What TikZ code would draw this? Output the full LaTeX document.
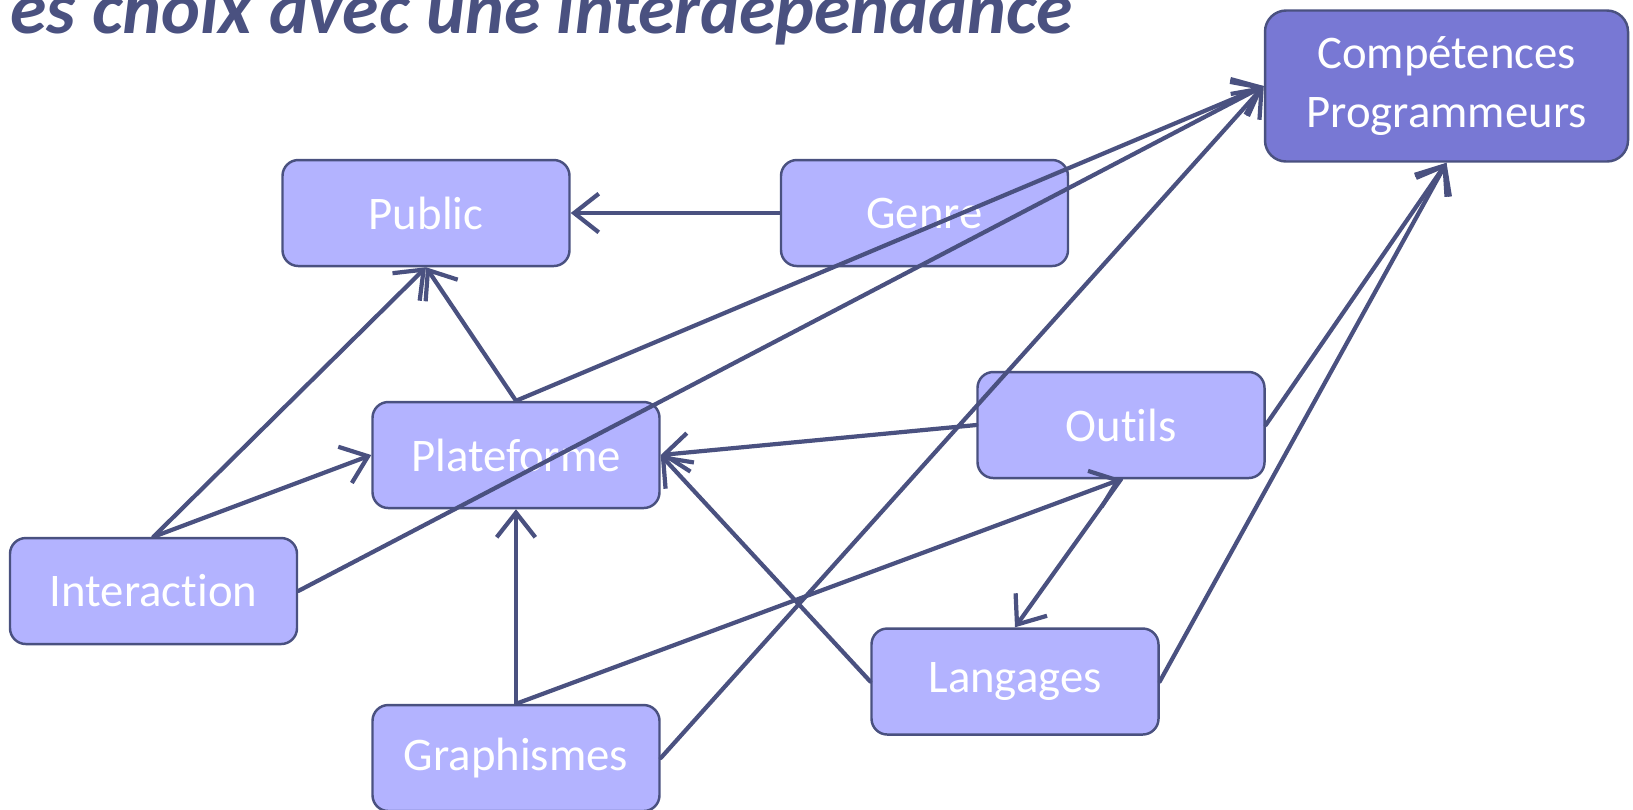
\documentclass[tikz,border=0pt]{standalone}
\usepackage{fontspec}
\setmainfont{Carlito}[Ligatures=NoCommon]
\usetikzlibrary{arrows.meta}
\definecolor{boxfill}{HTML}{B3B3FF}
\definecolor{keyfill}{HTML}{7878D4}
\definecolor{edge}{HTML}{4A5180}

\begin{document}
\begin{tikzpicture}[x=0.1mm, y=-0.1mm, every node/.style={font=\fontsize{13.3}{17}\selectfont},
	box/.style={draw=edge, line width=0.7pt, fill=boxfill, rounded corners=4.5pt, minimum width=28.7mm, minimum height=10.6mm, text=white, align=center},
	link/.style={draw=edge, line width=1.2pt, line cap=round, -{Straight Barb[length=7pt,width=11pt]}}]
	\useasboundingbox (0,0) rectangle (1633,809);
	\node[anchor=base west, text=edge, font=\fontsize{21}{25}\selectfont\bfseries\itshape] (title) at (-2,33) {es choix avec une interdépendance};
	\node[box] (public) at (426,213) {Public};
	\node[box] (genre) at (924.5,213) {Genre};
	\node[box, fill=keyfill, minimum width=36.3mm, minimum height=15.1mm, rounded corners=6pt] (comp) at (1446.5,86) {Compétences\\Programmeurs};
	\node[box] (plateforme) at (516,455) {Plateforme};
	\node[box] (outils) at (1121,425) {Outils};
	\node[box] (interaction) at (153.5,591) {Interaction};
	\node[box] (langages) at (1015,681.5) {Langages};
	\node[box] (graphismes) at (516,758) {Graphismes};
	\draw[link] (genre.west) -- (public.east);
	\draw[link] (plateforme.north) -- (public.south);
	\draw[link] (interaction.north) -- (public.south);
	\draw[link] (interaction.north) -- (plateforme.west);
	\draw[link] (interaction.east) -- (comp.west);
	\draw[link] (plateforme.north) -- (comp.west);
	\draw[link] (graphismes.east) -- (comp.west);
	\draw[link] (graphismes.north) -- (plateforme.south);
	\draw[link] (graphismes.north) -- (outils.south);
	\draw[link] (outils.west) -- (plateforme.east);
	\draw[link] (langages.west) -- (plateforme.east);
	\draw[link] (outils.south) -- (langages.north);
	\draw[link] (outils.east) -- (comp.south);
	\draw[link] (langages.east) -- (comp.south);
\end{tikzpicture}
\end{document}
